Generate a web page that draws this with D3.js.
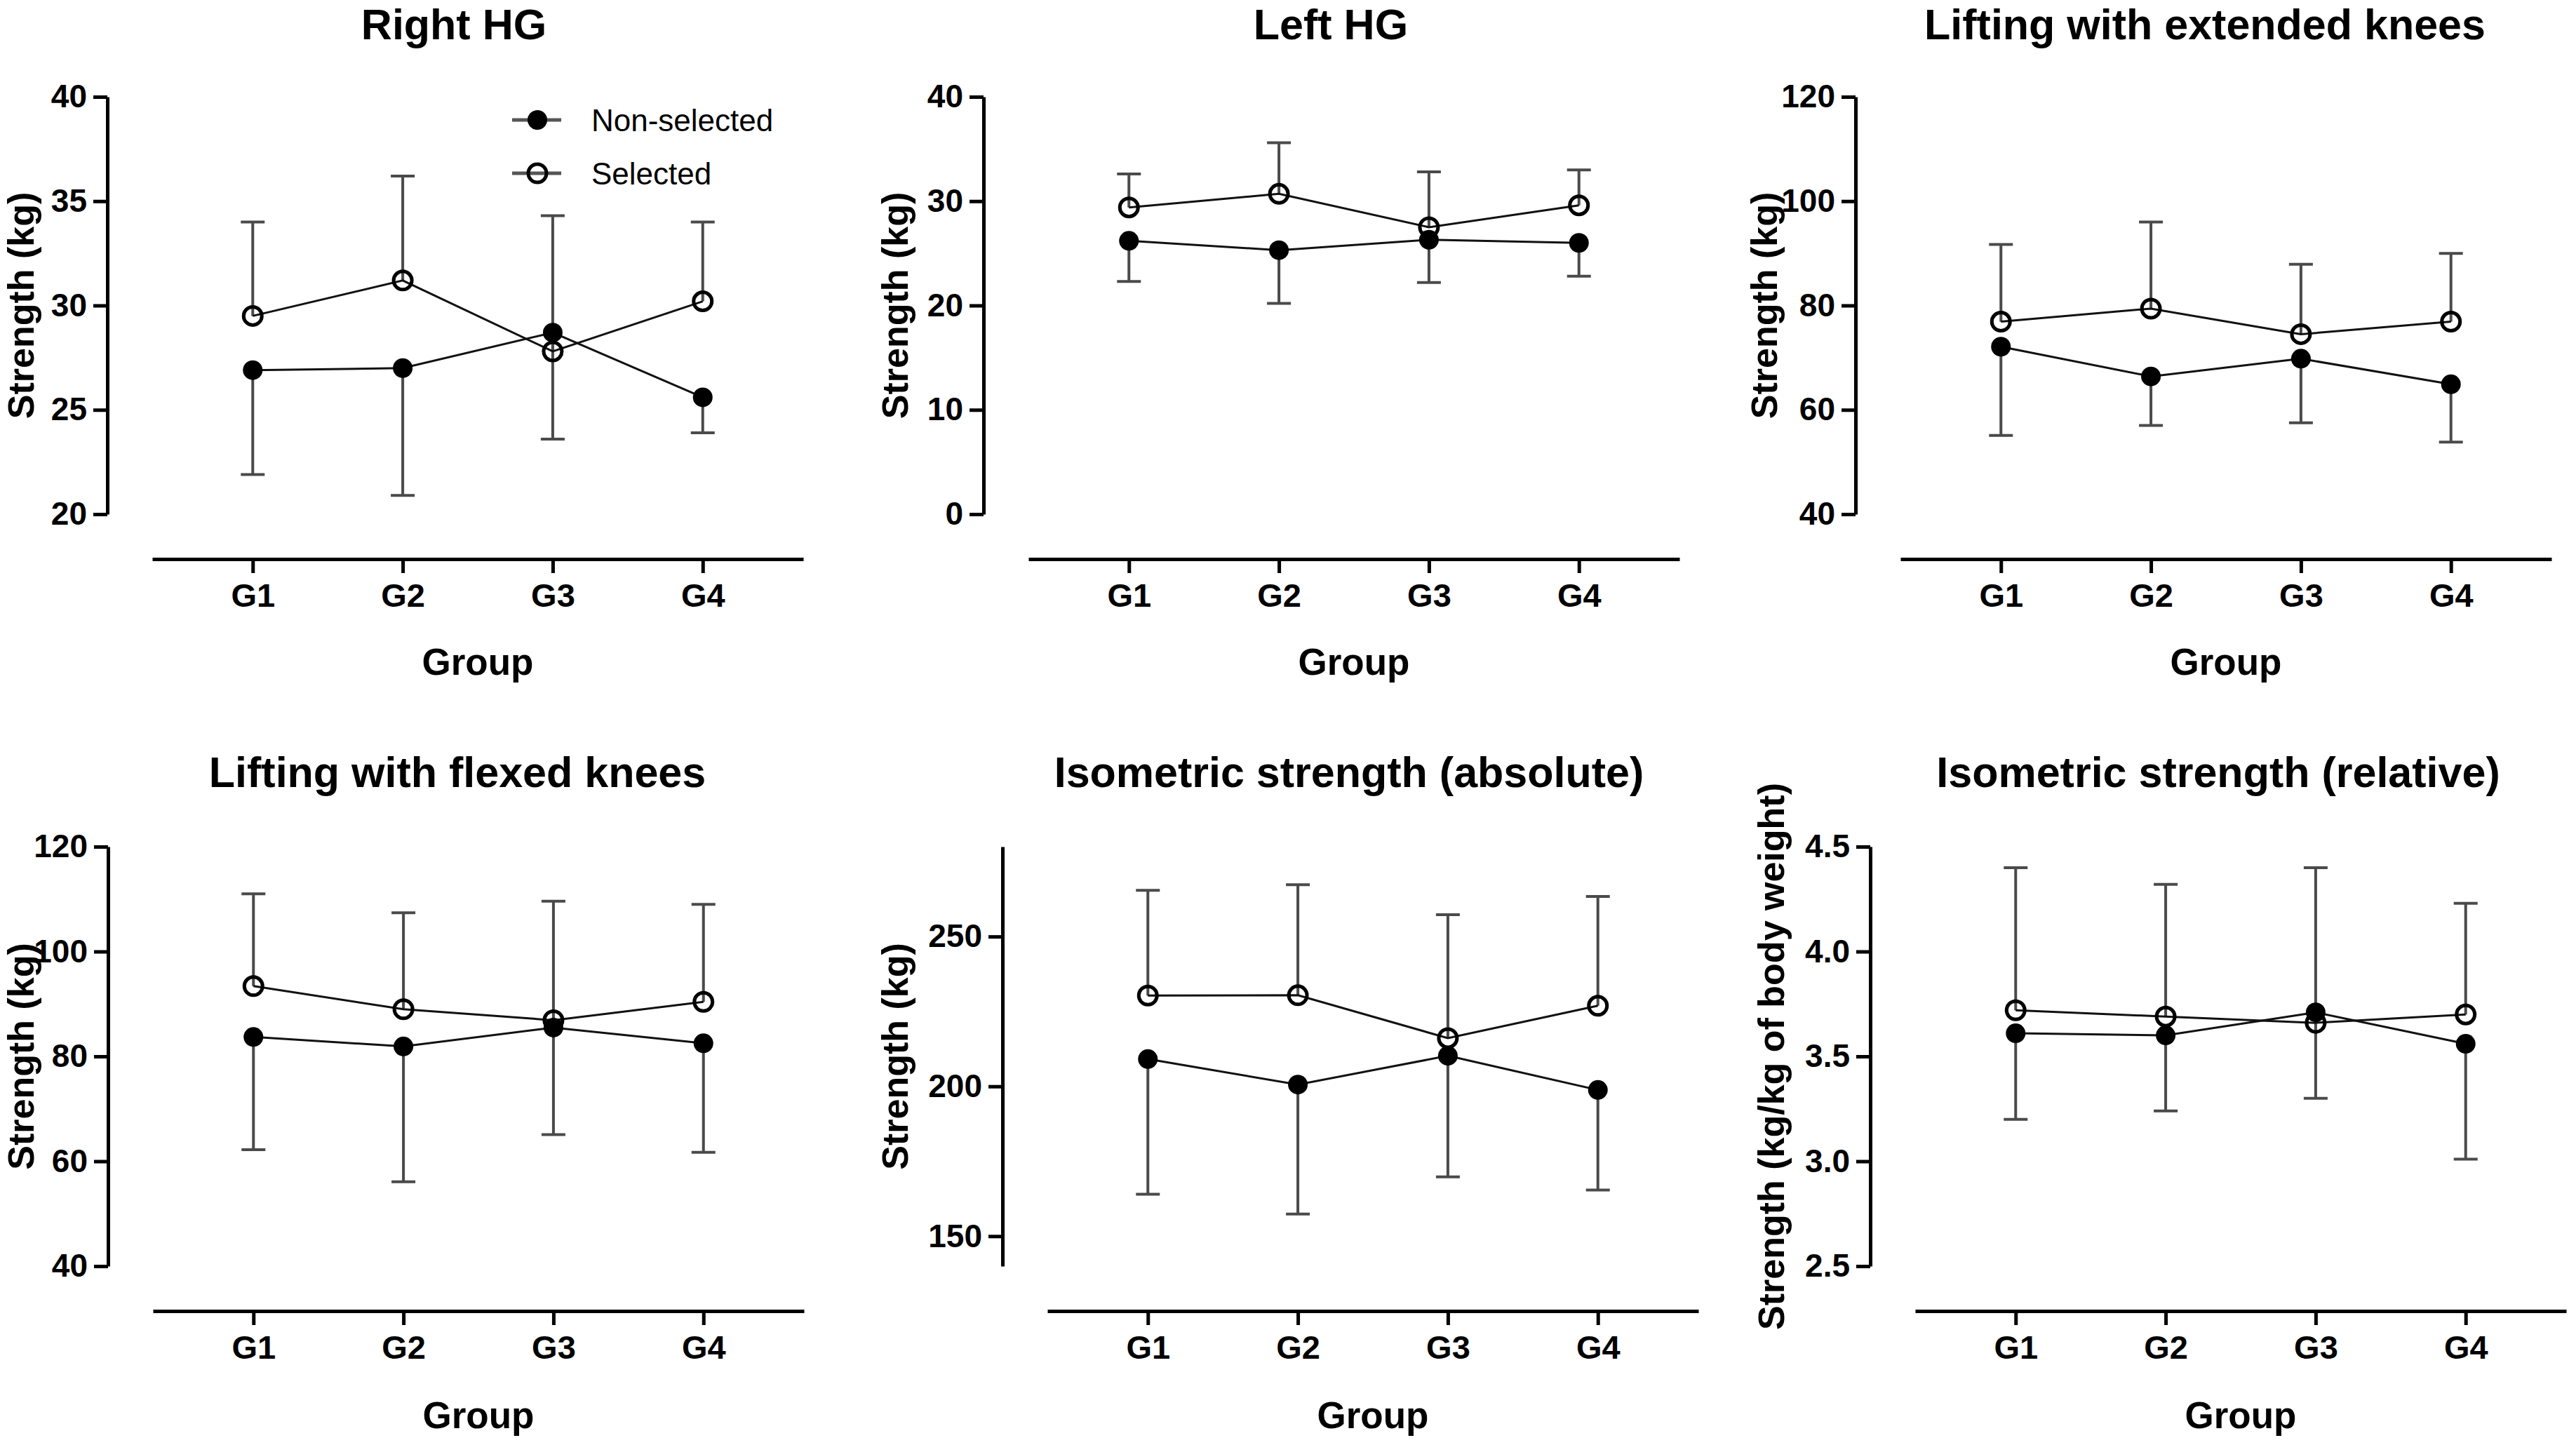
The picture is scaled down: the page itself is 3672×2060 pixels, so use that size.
<!DOCTYPE html>
<html>
<head>
<meta charset="utf-8">
<script src="https://cdn.jsdelivr.net/npm/d3@7"></script>
<style>
  body { margin: 0; background: #fff; }
  svg text { font-family: "Liberation Sans", Arial, sans-serif; fill: #000; }
</style>
</head>
<body>
<svg id="chart" width="3672" height="2060"></svg>
<script>
// Groups on the x axis
const groups = ["G1", "G2", "G3", "G4"];
const seriesNames = ["Non-selected", "Selected"];

// Panel titles and y labels
const titles = ["Right HG", "Left HG", "Lifting with extended knees",
    "Lifting with flexed knees", "Isometric strength (absolute)", "Isometric strength (relative)"];
const yLabels = ["Strength (kg)", "Strength (kg)", "Strength (kg)",
    "Strength (kg)", "Strength (kg)", "Strength (kg/kg of body weight)"];

// Means and SDs (Non-selected bars go down, Selected bars go up)
const rightHgNon = [26.9, 27.0, 28.7, 25.6];
const rightHgNonSd = [5.0, 6.1, 5.1, 1.7];
const rightHgSel = [29.5, 31.2, 27.8, 30.2];
const rightHgSelSd = [4.5, 5.0, 6.5, 3.8];

const leftHgNon = [26.2, 25.3, 26.3, 26.0];
const leftHgNonSd = [3.9, 5.1, 4.1, 3.2];
const leftHgSel = [29.4, 30.7, 27.5, 29.6];
const leftHgSelSd = [3.2, 4.9, 5.3, 3.4];

const liftExtNon = [72.1, 66.4, 69.8, 64.9];
const liftExtNonSd = [17.0, 9.4, 12.3, 11.1];
const liftExtSel = [76.9, 79.4, 74.5, 76.9];
const liftExtSelSd = [14.8, 16.6, 13.4, 13.1];

const liftFlexNon = [83.7, 81.9, 85.5, 82.5];
const liftFlexNonSd = [21.5, 25.8, 20.4, 20.8];
const liftFlexSel = [93.4, 89.0, 86.9, 90.4];
const liftFlexSelSd = [17.6, 18.4, 22.7, 18.6];

const isoAbsNon = [209.1, 200.6, 210.2, 198.8];
const isoAbsNonSd = [45.1, 43.2, 40.4, 33.4];
const isoAbsSel = [230.3, 230.4, 216.1, 226.9];
const isoAbsSelSd = [35.1, 36.9, 41.2, 36.5];

const isoRelNon = [3.61, 3.60, 3.71, 3.56];
const isoRelNonSd = [0.41, 0.36, 0.41, 0.55];
const isoRelSel = [3.72, 3.69, 3.66, 3.70];
const isoRelSelSd = [0.68, 0.63, 0.74, 0.53];

// Y axis domains and tick values
const yDomains = [[20, 40], [0, 40], [40, 120], [40, 120], [140, 280], [2.5, 4.5]];
const yTicks = [[20, 25, 30, 35, 40], [0, 10, 20, 30, 40], [40, 60, 80, 100, 120],
    [40, 60, 80, 100, 120], [150, 200, 250], [2.5, 3.0, 3.5, 4.0, 4.5]];
const yFormats = ["d", "d", "d", "d", "d", ".1f"];

// Building the panel table from the arrays above
const nonMeans = [rightHgNon, leftHgNon, liftExtNon, liftFlexNon, isoAbsNon, isoRelNon];
const nonSds = [rightHgNonSd, leftHgNonSd, liftExtNonSd, liftFlexNonSd, isoAbsNonSd, isoRelNonSd];
const selMeans = [rightHgSel, leftHgSel, liftExtSel, liftFlexSel, isoAbsSel, isoRelSel];
const selSds = [rightHgSelSd, leftHgSelSd, liftExtSelSd, liftFlexSelSd, isoAbsSelSd, isoRelSelSd];

const panels = titles.map((t, i) => ({
    title: t,
    yLabel: yLabels[i],
    domain: yDomains[i],
    ticks: yTicks[i],
    fmt: d3.format(yFormats[i]),
    non: groups.map((g, j) => ({ g, v: nonMeans[i][j], e: nonMeans[i][j] - nonSds[i][j] })),
    sel: groups.map((g, j) => ({ g, v: selMeans[i][j], e: selMeans[i][j] + selSds[i][j] }))
}));

// Layout (pixels)
const rows = [
    { top: 138, bottom: 733, axisY: 797, titleY: 56, groupY: 962 },
    { top: 1207, bottom: 1805, axisY: 1869, titleY: 1122, groupY: 2036 }
];
const cols = [
    { ax: 153, labelX: 33, titleX: 647 },
    { ax: 1402, labelX: 1279, titleX: 1897 },
    { ax: 2645, labelX: 2518, titleX: 3143 },
    { ax: 154, labelX: 33, titleX: 652 },
    { ax: 1429, labelX: 1279, titleX: 1923 },
    { ax: 2666, labelX: 2528, titleX: 3162 }
];

const svg = d3.select("svg#chart");
const capHalf = 17;
const radius = 14;

panels.forEach((p, i) => {
    const R = rows[i < 3 ? 0 : 1];
    const C = cols[i];
    const g = svg.append("g").attr("class", "panel");

    const y = d3.scaleLinear().domain(p.domain).range([R.bottom, R.top]);
    const x = d3.scalePoint().domain(groups).range([C.ax + 64, C.ax + 992]).padding(0.67);

    // Y axis
    const yAxis = g.append("g")
        .attr("transform", `translate(${C.ax},0)`)
        .call(d3.axisLeft(y).tickValues(p.ticks).tickSize(20).tickSizeOuter(0)
            .tickPadding(9).tickFormat(p.fmt));
    yAxis.selectAll("text").style("font-size", "46px").style("font-weight", "bold");

    // X axis
    const xAxis = g.append("g")
        .attr("transform", `translate(0,${R.axisY})`)
        .call(d3.axisBottom(x).tickSize(20).tickSizeOuter(0).tickPadding(15));
    xAxis.selectAll("text").style("font-size", "47px").style("font-weight", "bold");

    g.selectAll(".domain, .tick line").attr("stroke", "#000").attr("stroke-width", 5);

    // Title
    g.append("text")
        .attr("x", C.titleX).attr("y", R.titleY)
        .attr("text-anchor", "middle")
        .style("font-size", "61px").style("font-weight", "bold")
        .text(p.title);

    // Y label
    g.append("text")
        .attr("transform", `translate(${C.labelX},${(R.top + R.bottom) / 2}) rotate(-90)`)
        .attr("dy", "0.28em")
        .attr("text-anchor", "middle")
        .style("font-size", "52px").style("font-weight", "bold")
        .text(p.yLabel);

    // X label
    g.append("text")
        .attr("x", C.ax + 528).attr("y", R.groupY)
        .attr("text-anchor", "middle")
        .style("font-size", "53px").style("font-weight", "bold")
        .text("Group");

    // Error bars
    [p.non, p.sel].forEach(series => {
        const eb = g.append("g").attr("stroke", "#4a4a4a").attr("stroke-width", 4);
        eb.selectAll("line.stem")
            .data(series).enter().append("line")
            .attr("class", "stem")
            .attr("x1", d => x(d.g)).attr("x2", d => x(d.g))
            .attr("y1", d => y(d.v)).attr("y2", d => y(d.e));
        eb.selectAll("line.cap")
            .data(series).enter().append("line")
            .attr("class", "cap")
            .attr("x1", d => x(d.g) - capHalf).attr("x2", d => x(d.g) + capHalf)
            .attr("y1", d => y(d.e)).attr("y2", d => y(d.e));
    });

    // Lines
    const line = d3.line().x(d => x(d.g)).y(d => y(d.v));
    [p.non, p.sel].forEach(series => {
        g.append("path")
            .datum(series)
            .attr("fill", "none")
            .attr("stroke", "#111")
            .attr("stroke-width", 3)
            .attr("d", line);
    });

    // Markers
    g.selectAll("circle.non")
        .data(p.non).enter().append("circle")
        .attr("class", "non")
        .attr("cx", d => x(d.g)).attr("cy", d => y(d.v))
        .attr("r", radius).attr("fill", "#000");
    g.selectAll("circle.sel")
        .data(p.sel).enter().append("circle")
        .attr("class", "sel")
        .attr("cx", d => x(d.g)).attr("cy", d => y(d.v))
        .attr("r", radius - 1).attr("fill", "none")
        .attr("stroke", "#000").attr("stroke-width", 5);
});

// Legend in the first panel
const legend = svg.append("g").attr("class", "legend");
const legendRows = legend.selectAll("g")
    .data(seriesNames).enter().append("g")
    .attr("transform", (d, i) => `translate(766,${171 + i * 76})`);
legendRows.append("line")
    .attr("x1", -36).attr("x2", 34)
    .attr("stroke", "#555").attr("stroke-width", 5);
legendRows.append("circle")
    .attr("r", (d, i) => i === 0 ? radius : radius - 1)
    .attr("fill", (d, i) => i === 0 ? "#000" : "none")
    .attr("stroke", "#000")
    .attr("stroke-width", (d, i) => i === 0 ? 0 : 5);
legendRows.append("text")
    .attr("x", 77).attr("y", 16)
    .style("font-size", "44px")
    .text(d => d);
</script>
</body>
</html>
